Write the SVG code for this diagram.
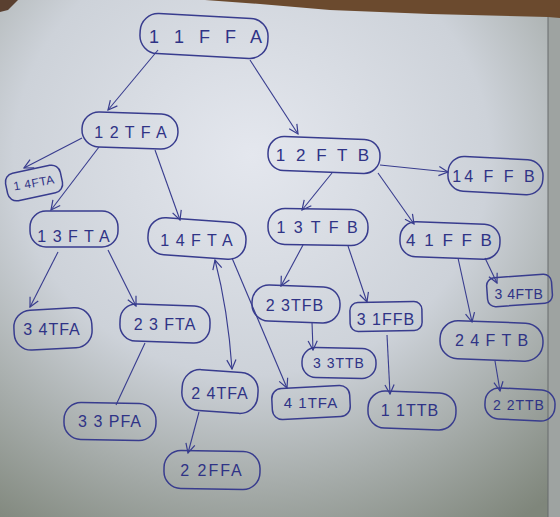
<svg xmlns="http://www.w3.org/2000/svg" width="560" height="517" viewBox="0 0 560 517">
<defs>
<radialGradient id="paper" cx="0.45" cy="0.3" r="0.85">
<stop offset="0" stop-color="#e4e7ee"/>
<stop offset="0.5" stop-color="#cdd2d9"/>
<stop offset="1" stop-color="#7f867b"/>
</radialGradient>
<marker id="arr" viewBox="0 0 12 12" refX="11" refY="6" markerWidth="11" markerHeight="11" markerUnits="userSpaceOnUse" orient="auto-start-reverse">
<polyline points="1,1 11,6 1,11" fill="none" stroke="#383c8e" stroke-width="1.3"/>
</marker>
<style>
.n{fill:none;stroke:#383c8e;stroke-width:1.5}
.t{font-family:"Liberation Sans",Arial,sans-serif;font-size:16px;fill:#2f3386;text-anchor:middle;dominant-baseline:central;letter-spacing:1px}
.s{font-size:12px;letter-spacing:0.5px}
.e{fill:none;stroke:#383c8e;stroke-width:1.1}
.a{marker-end:url(#arr)}
</style>
</defs>
<rect width="560" height="517" fill="url(#paper)"/>
<rect x="548" y="0" width="12" height="517" fill="#9ea3a1"/>
<line x1="548" y1="16" x2="548" y2="517" stroke="#666a6c" stroke-width="1"/>
<path d="M205,0 L560,0 L560,18 L548,17 L430,14 L330,10 L260,4 Z" fill="#6b4a2e"/>
<path d="M0,0 L18,0 L8,10 L0,12 Z" fill="#5a4030"/>

<g id="connectors">
<line class="e a" x1="158" y1="50" x2="108" y2="110"/>
<line class="e a" x1="250" y1="60" x2="298" y2="134"/>
<line class="e a" x1="82" y1="138" x2="24" y2="168"/>
<line class="e a" x1="99" y1="147" x2="51" y2="210"/>
<line class="e a" x1="155" y1="150" x2="180" y2="220"/>
<line class="e a" x1="380" y1="165" x2="448" y2="172"/>
<line class="e a" x1="332" y1="173" x2="302" y2="210"/>
<line class="e a" x1="378" y1="173" x2="414" y2="224"/>
<line class="e a" x1="58" y1="252" x2="30" y2="307"/>
<line class="e a" x1="108" y1="250" x2="136" y2="306"/>
<line class="e" x1="145" y1="343" x2="116" y2="405"/>
<path class="e a" d="M215,260 Q228,310 232,369" style="marker-start:url(#arr)"/>
<line class="e a" x1="232" y1="258" x2="287" y2="388"/>
<line class="e a" x1="199" y1="412" x2="188" y2="453"/>
<line class="e a" x1="303" y1="245" x2="281" y2="286"/>
<line class="e a" x1="348" y1="246" x2="367" y2="302"/>
<line class="e a" x1="312" y1="322" x2="313" y2="350"/>
<line class="e a" x1="387" y1="335" x2="390" y2="394"/>
<line class="e a" x1="485" y1="258" x2="497" y2="283"/>
<line class="e a" x1="458" y1="258" x2="472" y2="322"/>
<line class="e a" x1="495" y1="361" x2="500" y2="391"/>
</g>

<g id="n1"><rect class="n" x="140" y="16" width="128" height="40" rx="18" transform="rotate(3 204 36)"/><text class="t" x="208" y="37" style="font-size:18px;letter-spacing:5px">1 1 F F A</text></g>
<g id="n2"><rect class="n" x="82" y="113" width="96" height="35" rx="17" transform="rotate(2 130 130)"/><text class="t" x="131" y="132">1 2 T F A</text></g>
<g id="n3"><rect class="n" x="6" y="169" width="56" height="28" rx="9" transform="rotate(-12 34 183)"/><text class="t s" x="34" y="183" transform="rotate(-10 34 183)">1 4FTA</text></g>
<g id="n4"><rect class="n" x="30" y="211" width="88" height="36" rx="16"/><text class="t" x="74" y="236">1 3 F T A</text></g>
<g id="n5"><rect class="n" x="148" y="220" width="98" height="37" rx="17" transform="rotate(4 197 238)"/><text class="t" x="197" y="240">1 4 F T A</text></g>
<g id="n6"><rect class="n" x="268" y="138" width="112" height="34" rx="16" transform="rotate(2 324 155)"/><text class="t" x="324" y="155" style="font-size:17px;letter-spacing:3px">1 2 F T B</text></g>
<g id="n7"><rect class="n" x="448" y="158" width="95" height="35" rx="16" transform="rotate(3 495 175)"/><text class="t" x="495" y="176" style="letter-spacing:3px">14 F F B</text></g>
<g id="n8"><rect class="n" x="268" y="209" width="100" height="36" rx="17" transform="rotate(1 318 227)"/><text class="t" x="318" y="227" style="letter-spacing:2px">1 3 T F B</text></g>
<g id="n9"><rect class="n" x="400" y="223" width="100" height="35" rx="16" transform="rotate(2 450 240)"/><text class="t" x="450" y="240" style="font-size:17px;letter-spacing:2px">4 1 F F B</text></g>
<g id="n10"><rect class="n" x="14" y="309" width="78" height="40" rx="17" transform="rotate(-3 52 329)"/><text class="t" x="52" y="329">3 4TFA</text></g>
<g id="n11"><rect class="n" x="120" y="305" width="90" height="37" rx="16" transform="rotate(2 165 323)"/><text class="t" x="165" y="324">2 3 FTA</text></g>
<g id="n12"><rect class="n" x="252" y="286" width="88" height="36" rx="17" transform="rotate(2 296 304)"/><text class="t" x="295" y="305">2 3TFB</text></g>
<g id="n13"><rect class="n" x="350" y="302" width="72" height="29" rx="8" transform="rotate(-1 386 316)"/><text class="t" x="386" y="319">3 1FFB</text></g>
<g id="n14"><rect class="n" x="487" y="276" width="65" height="29" rx="8" transform="rotate(-4 519 290)"/><text class="t s" x="519" y="294" style="font-size:14px">3 4FTB</text></g>
<g id="n15"><rect class="n" x="440" y="322" width="103" height="38" rx="18" transform="rotate(2 492 341)"/><text class="t" x="492" y="340">2 4 F T B</text></g>
<g id="n16"><rect class="n" x="64" y="403" width="92" height="37" rx="17" transform="rotate(1 110 421)"/><text class="t" x="110" y="421">3 3 PFA</text></g>
<g id="n17"><rect class="n" x="182" y="371" width="76" height="41" rx="18" transform="rotate(4 220 391)"/><text class="t" x="220" y="393">2 4TFA</text></g>
<g id="n18"><rect class="n" x="302" y="348" width="74" height="30" rx="14" transform="rotate(1 339 363)"/><text class="t" x="339" y="363" style="font-size:14px">3 3TTB</text></g>
<g id="n19"><rect class="n" x="272" y="387" width="78" height="31" rx="10" transform="rotate(-3 311 402)"/><text class="t" x="311" y="402" style="font-size:15px">4 1TFA</text></g>
<g id="n20"><rect class="n" x="368" y="392" width="88" height="37" rx="17" transform="rotate(2 412 410)"/><text class="t" x="410" y="410">1 1TTB</text></g>
<g id="n21"><rect class="n" x="485" y="389" width="70" height="31" rx="14" transform="rotate(3 520 404)"/><text class="t" x="519" y="405" style="font-size:14px">2 2TTB</text></g>
<g id="n22"><rect class="n" x="164" y="451" width="96" height="38" rx="17" transform="rotate(1 212 470)"/><text class="t" x="212" y="470" style="letter-spacing:2px">2 2FFA</text></g>
</svg>
